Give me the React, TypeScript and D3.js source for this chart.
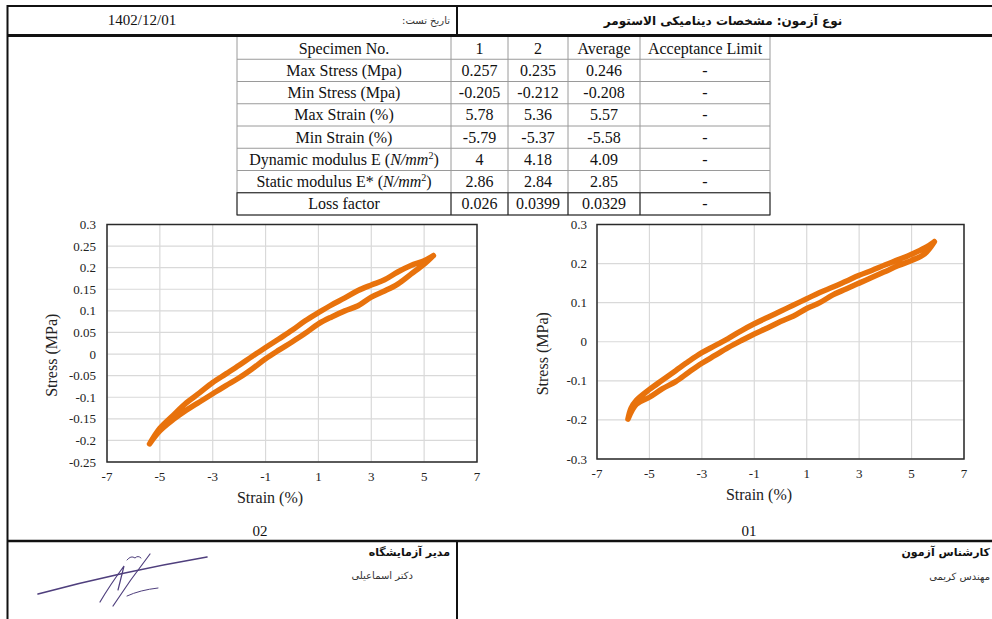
import React, { useEffect, useRef } from 'react';
import * as d3 from 'd3';

// tick values
const strainTicks = [-7, -5, -3, -1, 1, 3, 5, 7];
const stressTicks02 = [0.3, 0.25, 0.2, 0.15, 0.1, 0.05, 0, -0.05, -0.1, -0.15, -0.2, -0.25];
const stressTicks01 = [0.3, 0.2, 0.1, 0, -0.1, -0.2, -0.3];

// specimen 02 hysteresis loop
const upperStrain02 = [5.35, 5.0, 4.5, 4.0, 3.5, 3.0, 2.5, 2.0, 1.5, 1.0, 0.5, 0.0, -0.5, -1.0, -1.5, -2.0, -2.5, -3.0, -3.5, -4.0, -4.5, -5.0, -5.39];
const upperStress02 = [0.228, 0.216, 0.205, 0.19, 0.172, 0.16, 0.147, 0.13, 0.114, 0.096, 0.077, 0.055, 0.035, 0.015, -0.005, -0.026, -0.046, -0.066, -0.09, -0.113, -0.142, -0.172, -0.208];
const lowerStrain02 = [-5.39, -5.0, -4.5, -4.0, -3.5, -3.0, -2.5, -2.0, -1.5, -1.0, -0.5, 0.0, 0.5, 1.0, 1.5, 2.0, 2.5, 3.0, 3.5, 4.0, 4.5, 5.0, 5.35];
const lowerStress02 = [-0.208, -0.178, -0.152, -0.13, -0.111, -0.092, -0.073, -0.055, -0.034, -0.011, 0.009, 0.028, 0.048, 0.07, 0.086, 0.1, 0.112, 0.132, 0.146, 0.162, 0.185, 0.208, 0.228];

// specimen 01 hysteresis loop
const upperStrain01 = [5.87, 5.5, 5.0, 4.5, 4.0, 3.5, 3.0, 2.5, 2.0, 1.5, 1.0, 0.5, 0.0, -0.5, -1.0, -1.5, -2.0, -2.5, -3.0, -3.5, -4.0, -4.5, -5.0, -5.5, -5.7, -5.82];
const upperStress01 = [0.256, 0.24, 0.224, 0.21, 0.197, 0.183, 0.17, 0.155, 0.14, 0.126, 0.11, 0.094, 0.078, 0.062, 0.046, 0.028, 0.008, -0.01, -0.028, -0.05, -0.074, -0.098, -0.122, -0.15, -0.17, -0.198];
const lowerStrain01 = [-5.82, -5.5, -5.0, -4.5, -4.0, -3.5, -3.0, -2.5, -2.0, -1.5, -1.0, -0.5, 0.0, 0.5, 1.0, 1.5, 2.0, 2.5, 3.0, 3.5, 4.0, 4.5, 5.0, 5.5, 5.87];
const lowerStress01 = [-0.198, -0.16, -0.142, -0.12, -0.102, -0.078, -0.055, -0.035, -0.015, 0.003, 0.02, 0.035, 0.052, 0.066, 0.085, 0.1, 0.12, 0.135, 0.15, 0.165, 0.18, 0.195, 0.208, 0.225, 0.256];

// results table
const tableHeader = ['Specimen No.', '1', '2', 'Average', 'Acceptance Limit'];
const rowLabels = ['Max Stress (Mpa)', 'Min Stress (Mpa)', 'Max Strain (%)', 'Min Strain (%)', 'Dynamic modulus E', 'Static modulus E*', 'Loss factor'];
const specimen1 = ['0.257', '-0.205', '5.78', '-5.79', '4', '2.86', '0.026'];
const specimen2 = ['0.235', '-0.212', '5.36', '-5.37', '4.18', '2.84', '0.0399'];
const averages = ['0.246', '-0.208', '5.57', '-5.58', '4.09', '2.85', '0.0329'];
const limits = ['-', '-', '-', '-', '-', '-', '-'];

const serif = '"Liberation Serif", "Times New Roman", serif';
const persian = '"DejaVu Sans", sans-serif';

function drawChart(root, o) {
  const g = root.append('g');
  const x = d3.scaleLinear().domain([-7, 7]).range([o.left, o.right]);
  const y = d3.scaleLinear().domain(o.yDomain).range([o.bottom, o.top]);

  // gridlines
  g.selectAll('.vg').data(o.xTicks).enter().append('line')
    .attr('x1', d => x(d)).attr('x2', d => x(d))
    .attr('y1', o.top).attr('y2', o.bottom)
    .attr('stroke', '#d9d9d9').attr('stroke-width', 1.2);
  g.selectAll('.hg').data(o.yTicks).enter().append('line')
    .attr('x1', o.left).attr('x2', o.right)
    .attr('y1', d => y(d)).attr('y2', d => y(d))
    .attr('stroke', '#d9d9d9').attr('stroke-width', 1.2);

  // tick labels
  g.selectAll('.xl').data(o.xTicks).enter().append('text')
    .attr('x', d => x(d)).attr('y', o.bottom + 19)
    .attr('text-anchor', 'middle').attr('font-family', serif).attr('font-size', 13).attr('fill', '#222')
    .text(d => String(d));
  g.selectAll('.yl').data(o.yTicks).enter().append('text')
    .attr('x', o.labelX).attr('y', d => y(d)).attr('dy', '0.35em')
    .attr('text-anchor', 'end').attr('font-family', serif).attr('font-size', 13).attr('fill', '#222')
    .text(d => String(d));

  // plot border
  g.append('rect')
    .attr('x', o.left).attr('y', o.top)
    .attr('width', o.right - o.left).attr('height', o.bottom - o.top)
    .attr('fill', 'none').attr('stroke', '#2a2a2a').attr('stroke-width', 1.5);

  // loop
  const pts = o.upperX.map((v, i) => [v, o.upperY[i]])
    .concat(o.lowerX.map((v, i) => [v, o.lowerY[i]]));
  g.append('path')
    .datum(pts)
    .attr('fill', 'none')
    .attr('stroke', '#E8720C')
    .attr('stroke-width', 5.5)
    .attr('stroke-linejoin', 'round')
    .attr('stroke-linecap', 'round')
    .attr('d', d3.line().x(d => x(d[0])).y(d => y(d[1])).curve(d3.curveCatmullRom));

  // axis titles
  g.append('text')
    .attr('x', o.xTitleX).attr('y', o.bottom + 41)
    .attr('text-anchor', 'middle').attr('font-family', serif).attr('font-size', 16).attr('fill', '#222')
    .text('Strain (%)');
  g.append('text')
    .attr('transform', `translate(${o.yTitleX},${(o.top + o.bottom) / 2 + 12}) rotate(-90)`)
    .attr('text-anchor', 'middle').attr('font-family', serif).attr('font-size', 16).attr('fill', '#222')
    .text('Stress (MPa)');
}

// right-anchored persian text
function rtlText(svg, xr, y, size, bold, color, txt) {
  svg.append('text').attr('x', xr).attr('y', y)
    .attr('direction', 'rtl').attr('text-anchor', 'start')
    .attr('font-family', persian).attr('font-size', size)
    .attr('font-weight', bold ? 'bold' : 'normal').attr('fill', color).text(txt);
}

const App = () => {
  const ref = useRef(null);

  useEffect(() => {
    const svg = d3.select(ref.current);
    svg.selectAll('*').remove();

    // page frame
    svg.append('rect').attr('width', 992).attr('height', 619).attr('fill', '#fff');
    svg.append('line').attr('x1', 7).attr('x2', 992).attr('y1', 6).attr('y2', 6).attr('stroke', '#111').attr('stroke-width', 2);
    svg.append('line').attr('x1', 7).attr('x2', 992).attr('y1', 35.5).attr('y2', 35.5).attr('stroke', '#111').attr('stroke-width', 3);
    svg.append('line').attr('x1', 7.5).attr('x2', 7.5).attr('y1', 5).attr('y2', 619).attr('stroke', '#111').attr('stroke-width', 2);
    svg.append('line').attr('x1', 457).attr('x2', 457).attr('y1', 5).attr('y2', 35).attr('stroke', '#111').attr('stroke-width', 2);
    svg.append('line').attr('x1', 7).attr('x2', 992).attr('y1', 541).attr('y2', 541).attr('stroke', '#111').attr('stroke-width', 2.5);
    svg.append('line').attr('x1', 457).attr('x2', 457).attr('y1', 541).attr('y2', 619).attr('stroke', '#111').attr('stroke-width', 2);

    // header texts
    svg.append('text').attr('x', 142).attr('y', 25).attr('text-anchor', 'middle')
      .attr('font-family', serif).attr('font-size', 15).attr('fill', '#111').text('1402/12/01');
    rtlText(svg, 450, 24, 10, false, '#333', 'تاریخ تست:');
    svg.append('text').attr('x', 723).attr('y', 25).attr('text-anchor', 'middle').attr('direction', 'rtl')
      .attr('font-family', persian).attr('font-size', 12).attr('font-weight', 'bold').attr('fill', '#111')
      .text('نوع آزمون: مشخصات دینامیکی الاستومر');

    // results table
    const colEdges = [237, 451, 508, 568, 640, 770];
    const rowTop = 37;
    const rowH = 22.25;
    const nRows = rowLabels.length + 1;
    const cols = [rowLabels, specimen1, specimen2, averages, limits];
    const fs = 16;
    const tg = svg.append('g');
    colEdges.forEach((cx) => {
      tg.append('line').attr('x1', cx).attr('x2', cx)
        .attr('y1', rowTop).attr('y2', rowTop + nRows * rowH)
        .attr('stroke', '#9a9a9a').attr('stroke-width', 1);
    });
    for (let r = 1; r <= nRows; r++) {
      tg.append('line').attr('x1', colEdges[0]).attr('x2', colEdges[5])
        .attr('y1', rowTop + r * rowH).attr('y2', rowTop + r * rowH)
        .attr('stroke', '#9a9a9a').attr('stroke-width', 1);
    }
    // darker last row
    tg.append('rect').attr('x', colEdges[0]).attr('y', rowTop + (nRows - 1) * rowH)
      .attr('width', colEdges[5] - colEdges[0]).attr('height', rowH)
      .attr('fill', 'none').attr('stroke', '#222').attr('stroke-width', 1);
    for (let c = 1; c < 5; c++) {
      tg.append('line').attr('x1', colEdges[c]).attr('x2', colEdges[c])
        .attr('y1', rowTop + (nRows - 1) * rowH).attr('y2', rowTop + nRows * rowH)
        .attr('stroke', '#222').attr('stroke-width', 1);
    }
    tableHeader.forEach((h, c) => {
      tg.append('text').attr('x', (colEdges[c] + colEdges[c + 1]) / 2).attr('y', rowTop + rowH / 2 + 5.5)
        .attr('text-anchor', 'middle').attr('font-family', serif).attr('font-size', fs).attr('fill', '#111').text(h);
    });
    cols.forEach((col, c) => {
      col.forEach((v, r) => {
        const t = tg.append('text').attr('x', (colEdges[c] + colEdges[c + 1]) / 2)
          .attr('y', rowTop + (r + 1) * rowH + rowH / 2 + 5.5)
          .attr('text-anchor', 'middle').attr('font-family', serif).attr('font-size', fs).attr('fill', '#111');
        if (c === 0 && (r === 4 || r === 5)) {
          t.append('tspan').text(v + ' (');
          t.append('tspan').attr('font-style', 'italic').text('N/mm');
          t.append('tspan').attr('dy', -6).attr('font-size', 10).text('2');
          t.append('tspan').attr('dy', 6).text(')');
        } else {
          t.text(v);
        }
      });
    });

    drawChart(svg, {
      left: 107, right: 477, top: 224.5, bottom: 462,
      yDomain: [-0.25, 0.3], xTicks: strainTicks, yTicks: stressTicks02,
      labelX: 96, yTitleX: 57, xTitleX: 270,
      upperX: upperStrain02, upperY: upperStress02, lowerX: lowerStrain02, lowerY: lowerStress02,
    });
    drawChart(svg, {
      left: 597, right: 964, top: 224.5, bottom: 459,
      yDomain: [-0.3, 0.3], xTicks: strainTicks, yTicks: stressTicks01,
      labelX: 587, yTitleX: 548, xTitleX: 759,
      upperX: upperStrain01, upperY: upperStress01, lowerX: lowerStrain01, lowerY: lowerStress01,
    });

    svg.append('text').attr('x', 260).attr('y', 536).attr('text-anchor', 'middle')
      .attr('font-family', serif).attr('font-size', 15).attr('fill', '#111').text('02');
    svg.append('text').attr('x', 749).attr('y', 536).attr('text-anchor', 'middle')
      .attr('font-family', serif).attr('font-size', 15).attr('fill', '#111').text('01');

    // footer
    rtlText(svg, 450, 556, 11, true, '#111', 'مدیر آزمایشگاه');
    rtlText(svg, 413, 579, 10, false, '#333', 'دکتر اسماعیلی');
    rtlText(svg, 990, 556, 11, true, '#111', 'کارشناس آزمون');
    rtlText(svg, 990, 580, 10, false, '#333', 'مهندس کریمی');

    // signature
    const sig = svg.append('g').attr('fill', 'none').attr('stroke', '#4f3f7d').attr('stroke-linecap', 'round');
    sig.append('path').attr('d', 'M38,594 Q120,572 207,557').attr('stroke-width', 1.6);
    sig.append('path').attr('d', 'M100,602 Q110,585 124,566 L118,590').attr('stroke-width', 1.2);
    sig.append('path').attr('d', 'M113,606 Q130,580 150,554').attr('stroke-width', 1.2);
    sig.append('path').attr('d', 'M127,560 q4,-5 8,-2 q3,-3 6,0').attr('stroke-width', 1);
    sig.append('path').attr('d', 'M127,596 Q140,590 158,588').attr('stroke-width', 1);
  }, []);

  return (
    <svg ref={ref} width={992} height={619} style={{ position: 'absolute', left: 0, top: 0 }} />
  );
};

export default App;
